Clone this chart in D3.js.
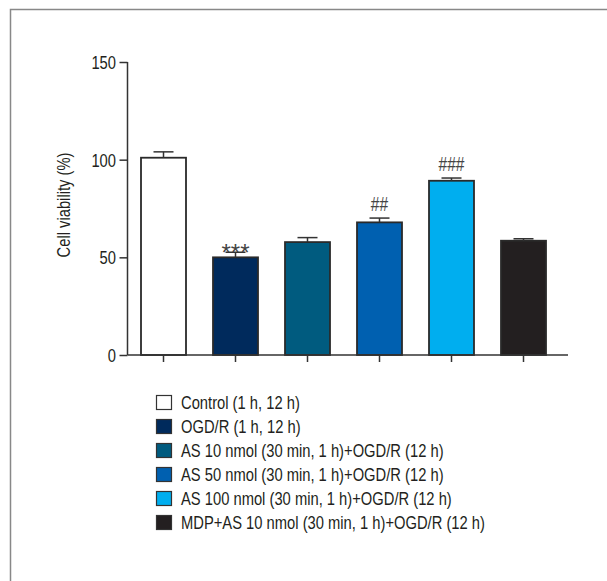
<!DOCTYPE html>
<html><head><meta charset="utf-8">
<script src="https://cdn.jsdelivr.net/npm/d3@7"></script>
<style>
body{margin:0;background:#fff;}
text{font-family:"Liberation Sans",Arial,sans-serif;fill:#231f20;}
</style></head><body>
<svg id="c" width="607" height="581"></svg>
<script>
const categories = ["Control (1 h, 12 h)","OGD/R (1 h, 12 h)","AS 10 nmol (30 min, 1 h)+OGD/R (12 h)","AS 50 nmol (30 min, 1 h)+OGD/R (12 h)","AS 100 nmol (30 min, 1 h)+OGD/R (12 h)","MDP+AS 10 nmol (30 min, 1 h)+OGD/R (12 h)"];
const values = [101, 50, 57.8, 67.9, 89.2, 58.5];
const errors = [3, 2.6, 2.3, 2.2, 1.4, 1];
const marks = ["", "***", "", "##", "###", ""];
const colors = ["#ffffff","#002a5c","#005b7f","#0060b0","#00aeef","#231f20"];
const yTicks = [0, 50, 100, 150];

const svg = d3.select("#c");
const FS = 19;
// measure condensing factor from longest legend label
const probe = svg.append("text").attr("font-size",FS).text(categories[5]);
const K = 304 / probe.node().getComputedTextLength();
probe.remove();

function ctext(sel, tx, ty, str, anchor, rot, fs, k){
  return sel.append("text")
    .attr("transform",`translate(${tx},${ty})` + (rot?` rotate(${rot})`:"") + ` scale(${k||K},1)`)
    .attr("text-anchor",anchor||"start").attr("font-size",fs||FS).text(str);
}

// frame
svg.append("path").attr("d","M10.5,581 V9.5 H607").attr("fill","none").attr("stroke","#888").attr("stroke-width",1.5);

const x = d3.scaleBand().domain(categories).range([127.5, 559.5]).paddingInner(0.375).paddingOuter(0.1875);
const y = d3.scaleLinear().domain([0,150]).range([355, 62]);

const g = svg.append("g");
// y axis
const ya = g.append("g").attr("transform","translate(127.5,0)")
  .call(d3.axisLeft(y).tickValues(yTicks).tickSize(8).tickFormat(""));
ya.select(".domain").attr("stroke","#333").attr("stroke-width",1.5).attr("d","M0,355V62");
ya.selectAll(".tick line").attr("stroke","#333").attr("stroke-width",1.5);
yTicks.forEach(t=>ctext(g, 116, y(t)+7, String(t), "end"));

// bars
g.selectAll("rect.bar").data(categories).enter().append("rect")
  .attr("x", d=>x(d)).attr("width", x.bandwidth())
  .attr("y", (d,i)=>y(values[i])).attr("height",(d,i)=>y(0)-y(values[i]))
  .attr("fill",(d,i)=>colors[i]).attr("stroke","#2a2a2a").attr("stroke-width",1.8);

// error bars
categories.forEach((d,i)=>{
  const cx = x(d)+x.bandwidth()/2;
  const ty = y(values[i]+errors[i]);
  g.append("line").attr("x1",cx).attr("x2",cx).attr("y1",y(values[i])).attr("y2",ty).attr("stroke","#333").attr("stroke-width",1.5);
  g.append("line").attr("x1",cx-10).attr("x2",cx+10).attr("y1",ty).attr("y2",ty).attr("stroke","#333").attr("stroke-width",1.5);
  if(marks[i]){
    if(marks[i].includes("*")) ctext(g, cx, ty+8.5, marks[i], "middle", 0, 24, 1).style("fill","#444");
    else ctext(g, cx, ty-7, marks[i], "middle", 0, 20).style("fill","#444");
  }
});

// x axis
const xa = g.append("g").attr("transform","translate(0,355)")
  .call(d3.axisBottom(x).tickSize(7).tickFormat(""));
xa.select(".domain").attr("stroke","#333").attr("stroke-width",1.5).attr("d","M127.5,0H568");
xa.selectAll(".tick line").attr("stroke","#333").attr("stroke-width",1.5);

// y label
ctext(svg, 70, 205, "Cell viability (%)", "middle", -90);

// legend
const leg = svg.append("g");
categories.forEach((d,i)=>{
  const yy = 402.5 + i*24;
  leg.append("rect").attr("x",156.5).attr("y",yy-7).attr("width",15).attr("height",14).attr("fill",colors[i]).attr("stroke","#333").attr("stroke-width",1.2);
  ctext(leg, 181, yy+6.5, d);
});
</script></body></html>
